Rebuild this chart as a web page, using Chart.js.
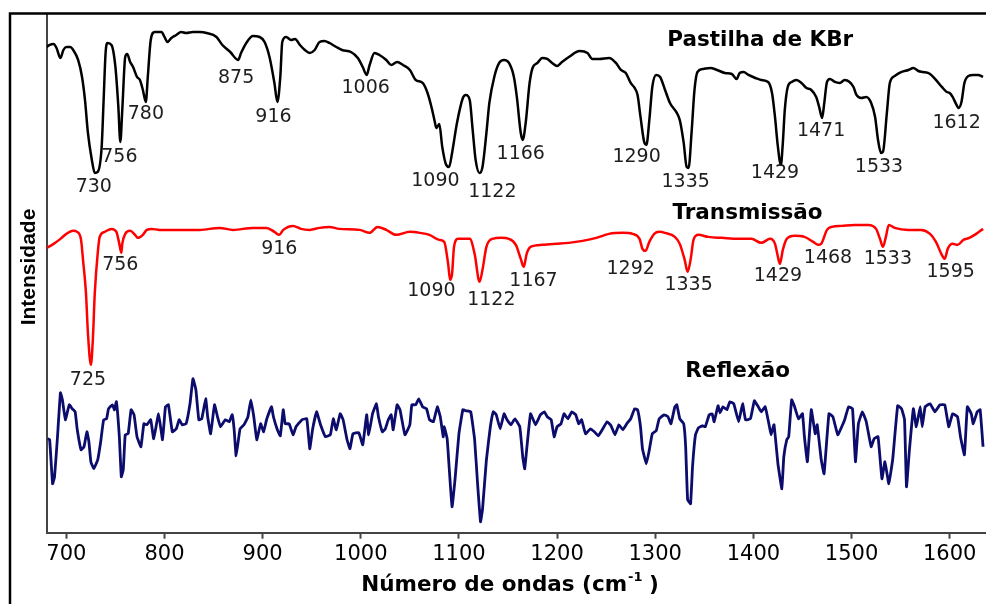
<!DOCTYPE html>
<html>
<head>
<meta charset="utf-8">
<title>Espectros</title>
<script src="https://cdn.jsdelivr.net/npm/chart.js@4.4.1/dist/chart.umd.min.js"></script>
<style>
  body { margin: 0; background: #fff; }
  canvas { display: block; }
</style>
</head>
<body>
<canvas id="spectra" width="986" height="604"></canvas>
<script>
// eixo x (número de ondas, cm-1)
const xTicks = [700, 800, 900, 1000, 1100, 1200, 1300, 1400, 1500, 1600];

// Pastilha de KBr (intensidade em unidades arbitrárias)
const kbrWn = [680,683,687,690,694,697,700,704,707,712,716,719,722,726,729,732,736,738,740,742,746,750,753,755,757,760,762,765,768,772,775,778,781,783,786,790,797,800,803,807,812,817,822,829,836,843,853,859,867,875,878,884,890,897,902,907,912,915,918,920,924,929,933,938,943,948,953,958,963,968,975,981,990,997,1002,1006,1009,1014,1019,1026,1031,1037,1043,1050,1056,1063,1068,1072,1075,1077,1080,1083,1087,1090,1093,1098,1104,1107,1111,1114,1117,1121,1124,1128,1131,1136,1141,1146,1151,1156,1159,1163,1165,1168,1172,1175,1180,1185,1190,1195,1200,1205,1212,1223,1231,1236,1243,1253,1260,1265,1270,1275,1279,1282,1285,1289,1291,1294,1297,1301,1305,1310,1315,1322,1325,1329,1332,1334,1337,1340,1343,1349,1356,1363,1371,1378,1383,1386,1390,1395,1402,1408,1415,1419,1422,1425,1428,1430,1432,1435,1439,1444,1449,1454,1459,1464,1467,1470,1472,1475,1478,1483,1488,1493,1498,1502,1505,1510,1515,1520,1524,1527,1530,1532,1536,1539,1544,1551,1558,1563,1568,1573,1580,1586,1592,1597,1600,1603,1607,1609,1612,1615,1619,1624,1629,1634];
const kbrInt = [486,488,489,485,475,483,486,486,483,473,456,433,400,373,360,361,386,433,480,490,488,466,426,391,423,476,479,471,466,456,453,443,431,456,493,501,501,496,491,495,498,501,500,501,501,500,496,488,481,473,480,491,497,496,491,476,450,431,456,491,496,493,494,488,483,480,483,491,492,490,486,483,481,475,466,458,468,480,478,473,468,471,468,463,453,450,440,426,413,405,409,386,368,366,380,410,435,438,433,403,373,360,366,400,430,456,470,473,470,456,436,400,393,410,450,465,470,475,474,470,467,471,476,482,480,474,474,475,470,463,460,450,445,438,416,390,388,413,446,458,456,443,430,420,413,390,366,365,400,443,461,464,465,463,460,459,454,460,461,458,455,453,451,440,416,386,368,390,423,446,451,453,450,445,443,436,426,415,428,451,454,451,450,453,451,446,438,435,436,430,416,393,380,381,420,450,457,461,463,465,462,461,459,453,446,441,440,436,428,425,431,450,457,458,458,456];

// Transmissão
const trWn = [680,687,694,700,707,711,715,717,720,722,725,727,729,732,734,739,746,751,754,756,757,760,765,770,773,778,782,787,795,809,822,836,856,870,890,904,912,917,921,931,939,948,958,968,978,999,1009,1017,1026,1036,1050,1060,1070,1080,1085,1089,1091,1093,1095,1099,1111,1116,1121,1124,1128,1134,1143,1151,1158,1163,1166,1169,1173,1185,1199,1212,1226,1240,1253,1267,1277,1284,1287,1290,1294,1299,1304,1310,1320,1325,1330,1333,1336,1339,1344,1354,1368,1385,1398,1408,1417,1422,1425,1427,1430,1434,1442,1452,1461,1466,1469,1475,1480,1490,1503,1517,1525,1529,1532,1535,1538,1544,1558,1571,1580,1586,1592,1595,1598,1603,1608,1614,1620,1627,1634];
const trInt = [285,289,294,299,302,301,293,273,240,200,168,193,240,280,296,301,304,301,289,280,289,299,302,298,295,298,303,304,303,303,303,303,305,303,305,305,301,298,303,307,304,303,305,306,304,303,300,306,303,298,301,300,298,293,291,269,253,259,286,294,294,279,251,263,286,294,295,294,288,274,266,279,286,288,289,290,292,295,299,300,299,294,284,282,291,299,301,300,296,289,273,261,273,293,298,296,295,294,294,290,294,289,276,269,283,294,297,296,291,288,289,303,306,307,308,308,304,294,286,296,308,305,303,303,299,291,278,274,284,289,288,293,295,299,304];

// Reflexão
const refWn = [681,683,686,688,691,694,696,699,703,706,709,711,715,718,721,723,725,728,732,735,738,741,743,747,749,751,754,756,758,760,763,766,769,772,776,779,782,786,789,794,798,801,804,808,812,815,818,822,826,829,832,835,838,842,844,847,851,854,857,862,866,869,871,873,877,881,885,888,891,894,898,901,904,909,911,915,918,921,923,927,931,934,940,945,948,951,955,959,964,969,972,975,979,982,986,989,992,998,1002,1006,1008,1012,1016,1018,1022,1025,1028,1031,1033,1037,1040,1045,1050,1052,1056,1059,1063,1067,1070,1074,1078,1081,1084,1085,1088,1090,1093,1096,1100,1104,1107,1112,1116,1119,1122,1124,1128,1132,1135,1138,1142,1146,1149,1153,1157,1162,1165,1167,1170,1173,1178,1183,1187,1190,1194,1197,1200,1204,1207,1211,1215,1219,1222,1225,1229,1234,1238,1242,1246,1251,1255,1259,1263,1267,1271,1275,1279,1282,1285,1287,1291,1294,1297,1301,1304,1309,1313,1316,1320,1322,1325,1329,1331,1333,1336,1338,1341,1344,1348,1351,1355,1358,1360,1364,1366,1369,1373,1376,1380,1385,1389,1392,1397,1401,1405,1408,1412,1416,1418,1421,1425,1429,1431,1434,1436,1439,1442,1446,1450,1452,1455,1459,1463,1465,1469,1472,1477,1481,1486,1490,1493,1497,1501,1504,1507,1511,1515,1520,1523,1527,1531,1534,1538,1542,1547,1551,1554,1556,1559,1563,1566,1570,1572,1575,1580,1585,1590,1595,1599,1603,1608,1611,1615,1618,1622,1624,1628,1631,1634];
const refInt = [94,93,49,56,96,140,133,113,128,124,121,104,83,86,101,91,71,64,73,91,113,114,124,128,123,131,96,56,63,98,99,123,118,96,86,109,108,113,94,119,93,126,128,101,104,113,108,109,129,154,143,113,114,134,116,99,128,116,106,113,111,118,103,77,104,108,116,133,116,93,109,101,113,126,116,103,97,123,109,109,98,106,113,114,84,104,121,108,96,98,114,103,119,113,93,84,99,100,88,118,98,119,129,116,101,104,113,118,103,128,123,98,108,128,128,134,126,124,113,111,126,116,96,106,94,66,26,53,99,123,122,121,93,49,11,23,73,106,121,118,104,119,113,108,114,106,76,64,93,119,108,118,121,116,113,96,106,109,119,114,121,118,109,113,99,104,101,97,103,111,107,98,108,103,109,114,124,123,106,84,69,83,99,102,114,118,116,109,126,128,114,109,86,33,29,66,98,105,107,106,118,119,111,127,120,126,123,131,129,111,129,113,114,132,126,121,126,108,98,108,69,44,76,93,96,133,126,114,119,96,71,123,99,108,74,59,119,116,98,106,113,126,124,71,109,121,111,86,94,96,54,71,49,74,127,124,113,46,83,124,106,126,106,126,129,121,128,128,106,119,116,96,78,126,119,109,121,123,86];

// rótulos dos picos: texto, posição (cm-1, intensidade) do centro do rótulo
const kbrPeakText = ['730','756','780','875','916','1006','1090','1122','1166','1290','1335','1429','1471','1533','1612'];
const kbrPeakX = [728,754,781,873,911,1005,1076,1134,1163,1281,1331,1422,1469,1528,1607];
const kbrPeakY = [346,376,419,455,416,445,352,341,379,376,351,360,402,366,410];

const trPeakText = ['725','756','916','1090','1122','1167','1292','1335','1429','1468','1533','1595'];
const trPeakX = [722,755,917,1072,1133,1176,1275,1334,1425,1476,1537,1601];
const trPeakY = [153,268,284,242,233,252,264,248,257,275,274,261];

const seriesNames = ['Pastilha de KBr', 'Transmissão', 'Reflexão'];
const seriesNameX = [1407, 1394, 1384];
const seriesNameY = [493, 319, 161];

function toPoints(xs, ys) {
    return xs.map((x, i) => ({ x: x, y: ys[i] }));
}

// desenha moldura, títulos e rótulos por cima do gráfico
const overlay = {
    id: 'overlay',
    afterDraw(chart) {
        const ctx = chart.ctx;
        const sx = chart.scales.x;
        const sy = chart.scales.y;
        ctx.save();

        // moldura externa
        ctx.strokeStyle = '#000';
        ctx.lineWidth = 2.5;
        ctx.beginPath();
        ctx.moveTo(10, 604);
        ctx.lineTo(10, 13.5);
        ctx.lineTo(986, 13.5);
        ctx.stroke();

        ctx.textAlign = 'center';
        ctx.textBaseline = 'middle';

        // nomes das séries
        ctx.fillStyle = '#000';
        ctx.font = 'bold 21.5px "DejaVu Sans"';
        seriesNames.forEach((name, i) => {
            ctx.fillText(name, sx.getPixelForValue(seriesNameX[i]), sy.getPixelForValue(seriesNameY[i]));
        });

        // números dos picos
        ctx.fillStyle = '#1e1e1e';
        ctx.font = '19px "DejaVu Sans"';
        kbrPeakText.forEach((t, i) => {
            ctx.fillText(t, sx.getPixelForValue(kbrPeakX[i]), sy.getPixelForValue(kbrPeakY[i]));
        });
        trPeakText.forEach((t, i) => {
            ctx.fillText(t, sx.getPixelForValue(trPeakX[i]), sy.getPixelForValue(trPeakY[i]));
        });

        // título do eixo x com expoente
        ctx.fillStyle = '#000';
        const bigFont = 'bold 21.5px "DejaVu Sans"';
        const supFont = 'bold 13px "DejaVu Sans"';
        const partA = 'Número de ondas (cm';
        const partSup = '-1';
        const partB = ' )';
        ctx.font = bigFont;
        const wA = ctx.measureText(partA).width;
        const wB = ctx.measureText(partB).width;
        ctx.font = supFont;
        const wS = ctx.measureText(partSup).width;
        const total = wA + wS + wB;
        let x0 = 510 - total / 2;
        const yTitle = 585;
        ctx.textAlign = 'left';
        ctx.font = bigFont;
        ctx.fillText(partA, x0, yTitle);
        ctx.font = supFont;
        ctx.fillText(partSup, x0 + wA + 1, yTitle - 7);
        ctx.font = bigFont;
        ctx.fillText(partB, x0 + wA + wS, yTitle);

        // título do eixo y
        ctx.translate(29, 267);
        ctx.rotate(-Math.PI / 2);
        ctx.textAlign = 'center';
        ctx.font = 'bold 21px "Liberation Sans"';
        ctx.fillText('Intensidade', 0, 0);

        ctx.restore();
    }
};

const ctx = document.getElementById('spectra').getContext('2d');
new Chart(ctx, {
    type: 'line',
    data: {
        datasets: [
            {
                label: seriesNames[0],
                data: toPoints(kbrWn, kbrInt),
                borderColor: '#000000',
                borderWidth: 2.5,
                pointRadius: 0,
                fill: false,
                cubicInterpolationMode: 'monotone'
            },
            {
                label: seriesNames[1],
                data: toPoints(trWn, trInt),
                borderColor: '#ff0000',
                borderWidth: 2.5,
                pointRadius: 0,
                fill: false,
                cubicInterpolationMode: 'monotone'
            },
            {
                label: seriesNames[2],
                data: toPoints(refWn, refInt),
                borderColor: '#0c0c6c',
                borderWidth: 2.8,
                pointRadius: 0,
                fill: false,
                tension: 0.1
            }
        ]
    },
    options: {
        responsive: false,
        animation: false,
        devicePixelRatio: 1,
        layout: { padding: { top: 15, right: 0, left: 0, bottom: 0 } },
        plugins: {
            legend: { display: false },
            tooltip: { enabled: false }
        },
        scales: {
            x: {
                type: 'linear',
                min: 680,
                max: 1637,
                afterBuildTicks: s => { s.ticks = xTicks.map(v => ({ value: v })); },
                afterFit: s => { s.height = 71.3; },
                ticks: {
                    color: '#000',
                    padding: 3,
                    maxRotation: 0,
                    font: { family: 'DejaVu Sans', size: 21 },
                    callback: v => String(v)
                },
                grid: {
                    drawOnChartArea: false,
                    drawTicks: true,
                    tickLength: 6,
                    tickWidth: 2,
                    tickColor: '#444'
                },
                border: { color: '#444', width: 2 }
            },
            y: {
                min: 0,
                max: 518,
                afterFit: s => { s.width = 46.7; },
                ticks: { display: false },
                grid: { drawOnChartArea: false, drawTicks: false },
                border: { color: '#444', width: 2 }
            }
        }
    },
    plugins: [overlay]
});
</script>
</body>
</html>
